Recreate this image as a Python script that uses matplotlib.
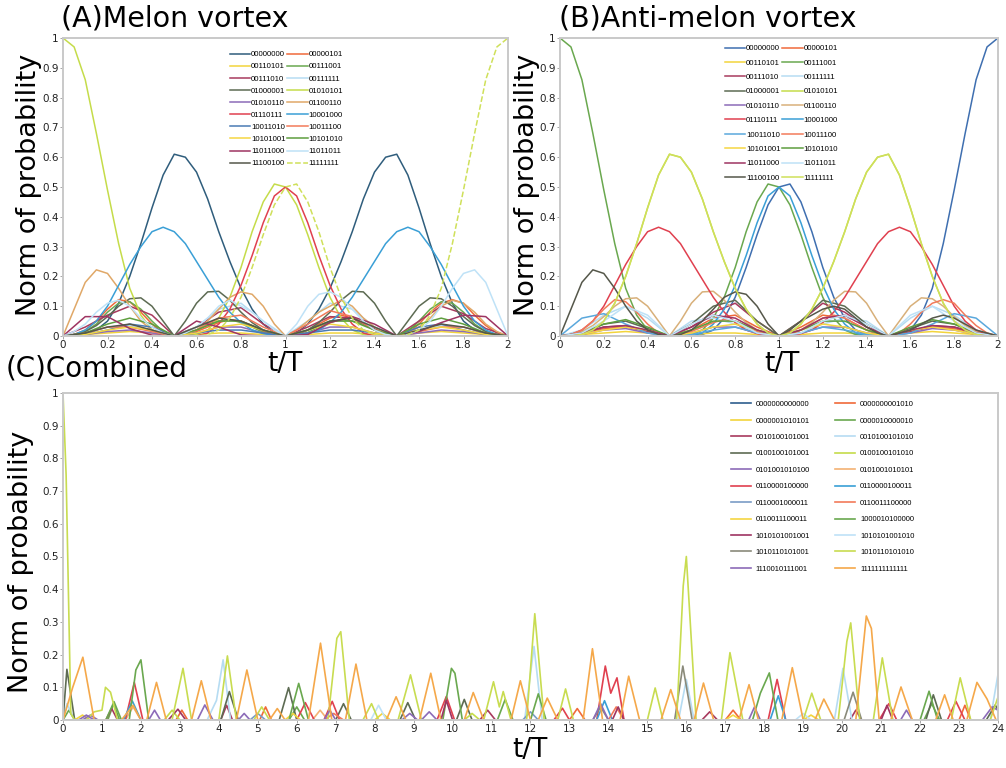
import numpy as np
import matplotlib
matplotlib.use('Agg')
import matplotlib.pyplot as plt
from matplotlib.ticker import FuncFormatter, MultipleLocator

# ---------------- time grids (t/T) ----------------
t_fine = np.round(np.linspace(0, 2, 41), 3)     # step 0.05
t_coarse = np.round(np.linspace(0, 2, 21), 3)   # step 0.1

# ---------------- Panel A : Melon vortex ----------------
labels_ab = ['00000000', '00000101', '00110101', '00111001', '00111010', '00111111',
             '01000001', '01010101', '01010110', '01100110', '01110111', '10001000',
             '10011010', '10011100', '10101001', '10101010', '11011000', '11011011',
             '11100100', '11111111']

colors_a = ['#2f5d7c', '#f06a3a', '#f2d43c', '#6aa84f', '#a83a5e', '#b6dcf2',
            '#5d6b53', '#c5dc4a', '#8c6bb8', '#e0a868', '#e0404f', '#3a9fd6',
            '#4a7ab4', '#f27a5a', '#f5d642', '#5e9e3e', '#9e3462', '#bfe2f7',
            '#55574a', '#cfe05a']

A_00000000 = [0, 0, .005, .02, .05, .11, .2, .31, .43, .54, .61, .6, .55, .46, .35, .25, .16, .09, .04, .01, 0,
              .01, .04, .09, .16, .25, .35, .46, .55, .6, .61, .54, .43, .31, .2, .11, .05, .02, .005, 0, 0]
A_01010101 = [1.0, .97, .86, .68, .49, .31, .16, .07, .02, .005, 0, 0, .005, .02, .06, .13, .23, .35, .45, .51, .5,
              .44, .34, .23, .13, .06, .02, .005, 0, 0, 0, 0, 0, 0, 0, 0, 0, 0, 0, 0, 0]
A_11111111 = [0, 0, 0, 0, 0, 0, 0, 0, 0, 0, 0, 0, 0, .005, .02, .06, .13, .23, .34, .44, .5,
              .51, .45, .35, .23, .13, .06, .02, .005, 0, 0, .005, .02, .07, .16, .31, .49, .68, .86, .97, 1.0]
A_01110111 = [0, 0, 0, 0, 0, 0, 0, 0, 0, 0, 0, 0, 0, .01, .04, .09, .17, .27, .38, .47, .5,
              .47, .38, .27, .17, .09, .04, .01, 0, 0, 0, 0, 0, 0, 0, 0, 0, 0, 0, 0, 0]
A_10001000 = [0, .005, .02, .05, .1, .17, .24, .3, .35, .365, .35, .31, .25, .19, .13, .08, .045, .02, .008, .002, 0,
              .002, .008, .02, .045, .08, .13, .19, .25, .31, .35, .365, .35, .3, .24, .17, .1, .05, .02, .005, 0]
A_01100110 = [0, .09, .18, .222, .21, .16, .1, .05, .02, .005, 0, .005, .02, .05, .09, .13, .148, .14, .1, .04, 0,
              .02, .05, .08, .1, .12, .1, .06, .03, .01, 0, .01, .03, .06, .1, .12, .11, .08, .04, .015, 0]
A_11011011 = [0, .015, .04, .08, .11, .12, .1, .06, .03, .01, 0, .01, .03, .06, .1, .12, .1, .08, .05, .02, 0,
              .04, .1, .14, .148, .13, .09, .05, .02, .005, 0, .005, .02, .05, .1, .16, .21, .222, .18, .09, 0]
A_01000001 = [0, .005, .015, .035, .065, .1, .125, .128, .1, .05, 0, .05, .11, .148, .15, .12, .08, .045, .02, .005, 0,
              .005, .02, .045, .08, .12, .15, .148, .11, .05, 0, .05, .1, .128, .125, .1, .065, .035, .015, .005, 0]
A_00000101 = [0, .005, .02, .05, .09, .122, .115, .08, .04, .01, 0, .005, .015, .03, .045, .055, .05, .035, .015, .004, 0,
              .005, .02, .04, .06, .07, .06, .04, .02, .005, 0, .01, .04, .08, .11, .122, .11, .07, .035, .01, 0]
A_00111001 = [0, .003, .015, .04, .08, .11, .115, .09, .05, .015, 0, .005, .02, .04, .05, .055, .045, .03, .012, .003, 0,
              .003, .012, .03, .045, .055, .05, .04, .02, .005, 0, .015, .05, .09, .115, .11, .08, .04, .015, .003, 0]
A_00110101 = [0, .005, .01, .015, .01, 0, .005, .01, .01, .005, 0, .005, .01, .01, .005, 0, .01, .015, .01, .005, 0]
A_00111010 = [0, .03, .07, .1, .07, 0, .03, .08, .095, .04, 0, .03, .065, .06, .025, 0, .05, .1, .075, .025, 0]
A_00111111 = [0, .01, .03, .035, .015, 0, .03, .09, .11, .05, 0, .05, .11, .09, .03, 0, .015, .035, .03, .01, 0]
A_01010110 = [0, .005, .015, .02, .01, 0, .01, .03, .03, .01, 0, .01, .03, .03, .01, 0, .01, .02, .015, .005, 0]
A_10011010 = [0, .005, .02, .04, .03, 0, .01, .02, .02, .01, 0, .01, .02, .02, .01, 0, .03, .04, .02, .005, 0]
A_10011100 = [0, .01, .03, .03, .015, 0, .02, .06, .07, .03, 0, .04, .085, .065, .02, 0, .015, .03, .03, .01, 0]
A_10101001 = [0, .005, .02, .03, .02, 0, .01, .03, .04, .02, 0, .02, .04, .03, .01, 0, .02, .03, .02, .005, 0]
A_10101010 = [0, .01, .04, .06, .04, 0, .02, .05, .05, .02, 0, .02, .05, .05, .02, 0, .04, .06, .04, .01, 0]
A_11011000 = [0, .065, .065, .025, .003, 0, .05, .03, .004, 0, 0, .005, .045, .065, .04, 0, .015, .045, .07, .065, 0]
A_11100100 = [0, .01, .03, .04, .02, 0, .03, .06, .05, .02, 0, .02, .05, .06, .03, 0, .02, .04, .03, .01, 0]

# ---------------- Panel B : Anti-melon vortex ----------------
colors_b = ['#3f6fb0', '#f06a3a', '#f2d43c', '#6aa84f', '#a83a5e', '#b6dcf2',
            '#5d6b53', '#c5dc4a', '#8c6bb8', '#d8b07a', '#e0404f', '#3a9fd6',
            '#5aa8dc', '#f27a5a', '#f5d642', '#5e9e3e', '#9e3462', '#bfe2f7',
            '#55574a', '#cfe05a']

B_00111001 = [1.0, .97, .86, .68, .49, .31, .16, .07, .02, .005, 0, 0, .005, .02, .06, .13, .23, .35, .45, .51, .5,
              .44, .34, .23, .13, .06, .02, .005, 0, 0, 0, 0, 0, 0, 0, 0, 0, 0, 0, 0, 0]
B_00000000 = [0, 0, 0, 0, 0, 0, 0, 0, 0, 0, 0, 0, 0, .005, .02, .06, .13, .23, .34, .44, .5,
              .51, .45, .35, .23, .13, .06, .02, .005, 0, 0, .005, .02, .07, .16, .31, .49, .68, .86, .97, 1.0]
B_10001000 = [0, 0, 0, 0, 0, 0, 0, 0, 0, 0, 0, 0, 0, .01, .04, .09, .17, .27, .38, .47, .5,
              .47, .38, .27, .17, .09, .04, .01, 0, 0, 0, 0, 0, 0, 0, 0, 0, 0, 0, 0, 0]
B_01010101 = [0, 0, .005, .02, .05, .11, .2, .31, .43, .54, .61, .6, .55, .46, .35, .25, .16, .09, .04, .01, 0,
              .01, .04, .09, .16, .25, .35, .46, .55, .6, .61, .54, .43, .31, .2, .11, .05, .02, .005, 0, 0]
B_01110111 = [0, .005, .02, .05, .1, .17, .24, .3, .35, .365, .35, .31, .25, .19, .13, .08, .045, .02, .008, .002, 0,
              .002, .008, .02, .045, .08, .13, .19, .25, .31, .35, .365, .35, .3, .24, .17, .1, .05, .02, .005, 0]
B_11100100 = [0, .09, .18, .222, .21, .16, .1, .05, .02, .005, 0, .005, .02, .05, .09, .13, .148, .14, .1, .04, 0,
              .02, .05, .07, .09, .1, .09, .06, .03, .01, 0, .01, .02, .04, .06, .07, .06, .04, .02, .01, 0]
B_01100110 = [0, .005, .015, .035, .065, .1, .125, .128, .1, .05, 0, .05, .11, .148, .15, .12, .08, .045, .02, .005, 0,
              .005, .02, .045, .08, .12, .15, .148, .11, .05, 0, .05, .1, .128, .125, .1, .065, .035, .015, .005, 0]
B_10011100 = [0, .005, .02, .05, .09, .122, .115, .08, .04, .01, 0, .005, .015, .03, .045, .055, .05, .035, .015, .004, 0,
              .005, .02, .04, .06, .07, .06, .04, .02, .005, 0, .01, .04, .08, .11, .122, .11, .07, .035, .01, 0]
B_00000101 = [0, .01, .025, .03, .015, 0, .02, .06, .07, .03, 0, .03, .07, .06, .02, 0, .015, .03, .025, .01, 0]
B_00110101 = [0, .005, .01, .015, .01, 0, .005, .01, .01, .005, 0, .005, .01, .01, .005, 0, .01, .015, .01, .005, 0]
B_00111010 = [0, .01, .03, .035, .015, 0, .03, .08, .11, .05, 0, .05, .11, .08, .03, 0, .015, .035, .03, .01, 0]
B_00111111 = [0, .02, .07, .1, .06, 0, .05, .06, .04, .01, 0, .01, .04, .06, .05, 0, .06, .1, .07, .02, 0]
B_01000001 = [0, .01, .04, .05, .025, 0, .04, .1, .12, .05, 0, .05, .12, .1, .04, 0, .025, .05, .04, .01, 0]
B_01010110 = [0, .005, .02, .025, .01, 0, .01, .03, .03, .01, 0, .01, .03, .03, .01, 0, .01, .025, .02, .005, 0]
B_10011010 = [0, .06, .075, .04, .01, 0, .005, .02, .03, .01, 0, .01, .03, .02, .005, 0, .01, .04, .075, .06, 0]
B_10101001 = [0, .005, .02, .03, .02, 0, .01, .03, .04, .02, 0, .02, .04, .03, .01, 0, .02, .03, .02, .005, 0]
B_10101010 = [0, .01, .04, .055, .03, 0, .02, .05, .05, .02, 0, .02, .05, .05, .02, 0, .03, .055, .04, .01, 0]
B_11011000 = [0, .01, .03, .035, .02, 0, .03, .07, .06, .02, 0, .02, .06, .07, .03, 0, .02, .035, .03, .01, 0]
B_11011011 = [0, .01, .05, .1, .07, 0, .04, .07, .05, .01, 0, .01, .05, .07, .04, 0, .07, .1, .05, .01, 0]

# ---------------- Panel C : Combined (t, value) samples ----------------
labels_c = ['0000000000000', '0000000001010', '0000001010101', '0000010000010',
            '0010100101001', '0010100101010', '0100100101001', '0100100101010',
            '0101001010100', '0101001010101', '0110000100000', '0110000100011',
            '0110001000011', '0110011100000', '0110011100011', '1000010100000',
            '1010101001001', '1010101001010', '1010110101001', '1010110101010',
            '1110010111001', '1111111111111']
colors_c = ['#2e5e8e', '#f06a3a', '#f2d43c', '#6aa84f', '#a83a5e', '#b6dcf2',
            '#5d6b53', '#c5dc4a', '#8c6bb8', '#f4b273', '#e0404f', '#3a9fd6',
            '#7a9cc6', '#f27a5a', '#f5d642', '#6aa84f', '#9e3462', '#bfe2f7',
            '#8a8a7a', '#c8dc50', '#8c6bb8', '#f5a84a']

C_t_00 = [0, 24]
C_v_00 = [0.0, 0.0]
C_t_01 = [2.9, 3.05, 3.2, 5.05, 5.2, 5.35, 13.0, 13.2, 13.4, 17.0, 17.2, 17.4, 23.0, 23.15, 23.3]
C_v_01 = [0, .03, 0, 0, .04, 0, 0, .035, 0, 0, .03, 0, 0, .045, 0]
C_t_02 = [0.3, 0.5, 0.7, 8.0, 8.2, 8.4, 19.0, 19.2, 19.4]
C_v_02 = [0, .015, 0, 0, .02, 0, 0, .015, 0]
C_t_03 = [0, 0.15, 0.3, 1.15, 1.3, 1.45, 5.8, 6.0, 6.2, 22.1, 22.3, 22.5]
C_v_03 = [0, .03, 0, 0, .05, 0, 0, .04, 0, 0, .05, 0]
C_t_04 = [1.1, 1.25, 1.4, 4.05, 4.2, 4.35, 10.7, 10.9, 11.1, 16.4, 16.6, 16.8, 20.2, 20.35, 20.5]
C_v_04 = [0, .035, 0, 0, .045, 0, 0, .03, 0, 0, .025, 0, 0, .03, 0]
C_t_05 = [0, 0.1, 0.3, 3.7, 3.94, 4.11, 4.3, 11.85, 12.09, 12.3, 15.8, 16.0, 16.2, 19.8, 20.02, 20.25, 23.8, 24.0]
C_v_05 = [0, .05, 0, 0, .06, .184, 0, 0, .225, 0, 0, .124, 0, 0, .158, 0, 0, .14]
C_t_06 = [0, 0.1, 0.3, 4.05, 4.27, 4.5, 5.55, 5.79, 6.0, 7.0, 7.2, 7.4, 8.65, 8.85, 9.05, 10.1, 10.3, 10.5,
          22.15, 22.34, 22.55, 23.7, 23.93, 24.0]
C_v_06 = [0, .155, 0, 0, .087, 0, 0, .099, 0, 0, .05, 0, 0, .053, 0, 0, .063, 0, 0, .077, 0, 0, .046, .03]
C_t_07 = [2.6, 2.8, 3.0, 10.3, 10.5, 10.7]
C_v_07 = [0, .03, 0, 0, .02, 0]
C_t_08 = [0.5, 0.7, 0.9, 8.7, 8.9, 9.1, 23.6, 23.85, 24.0]
C_v_08 = [0, .015, 0, 0, .02, 0, 0, .04, .03]
C_t_09 = [1.6, 1.8, 2.0, 6.4, 6.6, 6.8]
C_v_09 = [0, .04, 0, 0, .03, 0]
C_t_10 = [1.6, 1.83, 2.05, 6.0, 6.22, 6.45, 6.7, 6.91, 7.1, 9.6, 9.84, 10.05, 12.6, 12.82, 13.0,
          13.7, 13.92, 14.06, 14.22, 14.4, 18.1, 18.33, 18.55, 20.95, 21.2, 21.4, 22.7, 22.92, 23.15]
C_v_10 = [0, .115, 0, 0, .053, 0, 0, .057, 0, 0, .072, 0, 0, .036, 0,
          0, .165, .082, .129, 0, 0, .124, 0, 0, .05, 0, 0, .057, 0]
C_t_11 = [1.55, 1.78, 2.0, 13.7, 13.9, 14.1, 18.15, 18.36, 18.55]
C_v_11 = [0, .058, 0, 0, .059, 0, 0, .074, 0]
C_t_12 = [4.8, 5.0, 5.2, 11.8, 12.0, 12.2]
C_v_12 = [0, .02, 0, 0, .025, 0]
C_t_13 = [6.7, 6.95, 7.2, 14.0, 14.2, 14.4]
C_v_13 = [0, .02, 0, 0, .04, 0]
C_t_14 = [5.7, 5.9, 6.1, 17.0, 17.2, 17.4]
C_v_14 = [0, .02, 0, 0, .015, 0]
C_t_15 = [0, 1.1, 1.31, 1.5, 1.7, 1.87, 2.0, 2.2, 5.8, 6.05, 6.3, 9.75, 9.97, 10.06, 10.25, 11.15, 11.35, 11.55,
          12.0, 12.2, 12.4, 17.7, 17.9, 18.13, 18.35, 22.0, 22.23, 22.45, 24.0]
C_v_15 = [0, 0, .056, 0, 0, .153, .184, 0, 0, .112, 0, 0, .158, .143, 0, 0, .063, 0,
          0, .08, 0, 0, .082, .144, 0, 0, .088, 0, 0]
C_t_16 = [2.7, 2.95, 3.15, 9.7, 9.84, 10.0, 14.1, 14.25, 14.4, 21.0, 21.15, 21.3]
C_v_16 = [0, .033, 0, 0, .06, 0, 0, .04, 0, 0, .045, 0]
C_t_17 = [7.9, 8.1, 8.3, 18.8, 19.0, 19.2]
C_v_17 = [0, .045, 0, 0, .02, 0]
C_t_18 = [13.6, 13.8, 14.0, 15.7, 15.91, 16.15, 20.05, 20.28, 20.5]
C_v_18 = [0, .04, 0, 0, .165, 0, 0, .085, 0]
C_t_19 = [0, 0.08, 0.2, 0.3, 0.6, 0.8, 1.0, 1.09, 1.22, 1.4, 2.8, 3.08, 3.3, 4.0, 4.22, 4.45, 4.9, 5.1, 5.3,
          6.8, 7.03, 7.13, 7.35, 7.7, 7.92, 8.1, 8.6, 8.92, 9.2, 10.8, 11.05, 11.2, 11.3, 11.5, 11.9, 12.11, 12.35,
          12.7, 12.9, 13.1, 15.0, 15.2, 15.4, 15.75, 15.92, 16.0, 16.25, 16.9, 17.12, 17.45, 19.0, 19.22, 19.45,
          19.9, 20.12, 20.22, 20.45, 20.8, 21.03, 21.3, 22.8, 23.03, 23.3, 23.8, 24.0]
C_v_19 = [1.0, .75, .02, 0, 0, .025, .03, .10, .085, 0, 0, .158, 0, 0, .196, 0, 0, .04, 0,
          0, .25, .27, 0, 0, .05, 0, 0, .138, 0, 0, .117, .04, .087, 0, 0, .325, 0,
          0, .095, 0, 0, .098, 0, 0, .41, .5, 0, 0, .206, 0, 0, .082, 0,
          0, .24, .297, 0, 0, .19, 0, 0, .129, 0, 0, .07]
C_t_20 = [0.4, 0.6, 0.8, 2.2, 2.35, 2.5, 3.45, 3.64, 3.85, 4.5, 4.65, 4.8, 6.7, 6.85, 7.0, 9.2, 9.4, 9.6,
          13.6, 13.8, 14.0, 17.6, 17.75, 17.9, 21.5, 21.65, 21.8]
C_v_20 = [0, .015, 0, 0, .03, 0, 0, .046, 0, 0, .02, 0, 0, .03, 0, 0, .025, 0,
          0, .05, 0, 0, .04, 0, 0, .03, 0]
C_t_21 = [0, 0.25, 0.51, 0.8, 1.5, 1.8, 2.0, 2.15, 2.4, 2.65, 3.3, 3.55, 3.8, 4.45, 4.72, 5.0, 5.3, 5.5, 5.7,
          6.3, 6.61, 6.9, 7.25, 7.52, 7.8, 8.3, 8.55, 8.8, 9.15, 9.44, 9.7, 10.3, 10.53, 10.8, 11.5, 11.74, 12.0,
          12.2, 12.43, 12.7, 13.35, 13.59, 13.85, 14.3, 14.52, 14.8, 15.35, 15.6, 15.85, 16.2, 16.44, 16.7,
          17.35, 17.61, 17.85, 18.45, 18.72, 19.0, 19.3, 19.53, 19.8, 20.35, 20.62, 20.75, 20.95, 21.25, 21.51,
          21.8, 22.4, 22.63, 22.85, 23.2, 23.46, 23.72, 23.95]
C_v_21 = [0, .1, .192, 0, 0, .045, 0, 0, .115, 0, 0, .12, 0, 0, .153, 0, 0, .035, 0,
          0, .235, 0, 0, .171, 0, 0, .071, 0, 0, .143, 0, 0, .084, 0, 0, .12, 0,
          0, .067, 0, 0, .218, 0, 0, .134, 0, 0, .093, 0, 0, .113, 0,
          0, .108, 0, 0, .16, 0, 0, .064, 0, 0, .318, .28, 0, 0, .101,
          0, 0, .077, 0, 0, .115, .064, 0]

# ---------------- assemble ----------------
A_series = {
    '00000000': (t_fine, A_00000000), '00000101': (t_fine, A_00000101),
    '00110101': (t_coarse, A_00110101), '00111001': (t_fine, A_00111001),
    '00111010': (t_coarse, A_00111010), '00111111': (t_coarse, A_00111111),
    '01000001': (t_fine, A_01000001), '01010101': (t_fine, A_01010101),
    '01010110': (t_coarse, A_01010110), '01100110': (t_fine, A_01100110),
    '01110111': (t_fine, A_01110111), '10001000': (t_fine, A_10001000),
    '10011010': (t_coarse, A_10011010), '10011100': (t_coarse, A_10011100),
    '10101001': (t_coarse, A_10101001), '10101010': (t_coarse, A_10101010),
    '11011000': (t_coarse, A_11011000), '11011011': (t_fine, A_11011011),
    '11100100': (t_coarse, A_11100100), '11111111': (t_fine, A_11111111),
}
B_series = {
    '00000000': (t_fine, B_00000000), '00000101': (t_coarse, B_00000101),
    '00110101': (t_coarse, B_00110101), '00111001': (t_fine, B_00111001),
    '00111010': (t_coarse, B_00111010), '00111111': (t_coarse, B_00111111),
    '01000001': (t_coarse, B_01000001), '01010101': (t_fine, B_01010101),
    '01010110': (t_coarse, B_01010110), '01100110': (t_fine, B_01100110),
    '01110111': (t_fine, B_01110111), '10001000': (t_fine, B_10001000),
    '10011010': (t_coarse, B_10011010), '10011100': (t_fine, B_10011100),
    '10101001': (t_coarse, B_10101001), '10101010': (t_coarse, B_10101010),
    '11011000': (t_coarse, B_11011000), '11011011': (t_coarse, B_11011011),
    '11100100': (t_fine, B_11100100), '11111111': (t_fine, B_01010101),
}
C_series = [(C_t_00, C_v_00), (C_t_01, C_v_01), (C_t_02, C_v_02), (C_t_03, C_v_03),
            (C_t_04, C_v_04), (C_t_05, C_v_05), (C_t_06, C_v_06), (C_t_07, C_v_07),
            (C_t_08, C_v_08), (C_t_09, C_v_09), (C_t_10, C_v_10), (C_t_11, C_v_11),
            (C_t_12, C_v_12), (C_t_13, C_v_13), (C_t_14, C_v_14), (C_t_15, C_v_15),
            (C_t_16, C_v_16), (C_t_17, C_v_17), (C_t_18, C_v_18), (C_t_19, C_v_19),
            (C_t_20, C_v_20), (C_t_21, C_v_21)]

# ---------------- figure ----------------
plt.rcParams['font.family'] = ['DejaVu Sans']
W, H = 1006, 768
fig = plt.figure(figsize=(W / 100, H / 100), dpi=100)
fig.patch.set_facecolor('white')


def fx(px):
    return px / W


def fy(py):
    return 1 - py / H


fmt = FuncFormatter(lambda v, p: ('%g' % round(v, 3)))


def style_axes(ax, xmax, xstep):
    ax.set_xlim(0, xmax)
    ax.set_ylim(0, 1)
    ax.xaxis.set_major_locator(MultipleLocator(xstep))
    ax.yaxis.set_major_locator(MultipleLocator(0.1))
    ax.xaxis.set_major_formatter(fmt)
    ax.yaxis.set_major_formatter(fmt)
    for s in ax.spines.values():
        s.set_color('#c9c9c9')
        s.set_linewidth(1.4)
    ax.tick_params(axis='both', length=2, width=0.6, color='#999999',
                   labelsize=7.5, pad=1, labelcolor='#222222')


def legend_rowmajor(ax, handles, labels, **kw):
    h = handles[0::2] + handles[1::2]
    l = labels[0::2] + labels[1::2]
    return ax.legend(h, l, **kw)


leg_font_ab = {'family': 'Liberation Sans', 'size': 5.6}

# Panel A
axA = fig.add_axes([fx(63), fy(336), fx(508 - 63), (336 - 38) / H])
hA = []
for lab, col in zip(labels_ab, colors_a):
    tt, vv = A_series[lab]
    ls = '--' if lab == '11111111' else '-'
    ln, = axA.plot(tt, vv, color=col, lw=1.1, ls=ls)
    hA.append(ln)
style_axes(axA, 2, 0.2)
legend_rowmajor(axA, hA, labels_ab, loc='upper left', bbox_to_anchor=(fx(226), fy(47)),
                bbox_transform=fig.transFigure, ncol=2, frameon=False,
                prop=leg_font_ab, handlelength=2.6,
                handletextpad=0.1, columnspacing=0.25, labelspacing=0.6, borderpad=0)

# Panel B
axB = fig.add_axes([fx(560), fy(336), fx(998 - 560), (336 - 38) / H])
hB = []
for lab, col in zip(labels_ab, colors_b):
    tt, vv = B_series[lab]
    ln, = axB.plot(tt, vv, color=col, lw=1.1)
    hB.append(ln)
style_axes(axB, 2, 0.2)
legend_rowmajor(axB, hB, labels_ab, loc='upper left', bbox_to_anchor=(fx(721), fy(41)),
                bbox_transform=fig.transFigure, ncol=2, frameon=False,
                prop=leg_font_ab, handlelength=2.6,
                handletextpad=0.1, columnspacing=0.25, labelspacing=0.89, borderpad=0)

# Panel C
axC = fig.add_axes([fx(63), fy(720), fx(998 - 63), (720 - 393) / H])
hC = []
for (tt, vv), col in zip(C_series, colors_c):
    ln, = axC.plot(tt, vv, color=col, lw=1.2)
    hC.append(ln)
style_axes(axC, 24, 1)
legend_rowmajor(axC, hC, labels_c, loc='upper left', bbox_to_anchor=(fx(727), fy(397)),
                bbox_transform=fig.transFigure, ncol=2, frameon=False,
                prop={'family': 'Liberation Sans', 'size': 5.5}, handlelength=2.6,
                handletextpad=0.65, columnspacing=3.3, labelspacing=1.19, borderpad=0)

# texts
fig.text(fx(61), fy(18), '(A)Melon vortex', fontsize=20.5, ha='left', va='center')
fig.text(fx(559), fy(18), '(B)Anti-melon vortex', fontsize=20.5, ha='left', va='center')
fig.text(fx(6), fy(369), '(C)Combined', fontsize=20, ha='left', va='center')
fig.text(fx(29), fy(185), 'Norm of probability', fontsize=19.5, rotation=90, ha='center', va='center')
fig.text(fx(527), fy(185), 'Norm of probability', fontsize=19.5, rotation=90, ha='center', va='center')
fig.text(fx(21), fy(562), 'Norm of probability', fontsize=19.5, rotation=90, ha='center', va='center')
fig.text(fx(285), fy(364), 't/T', fontsize=19, ha='center', va='center')
fig.text(fx(782), fy(364), 't/T', fontsize=19, ha='center', va='center')
fig.text(fx(530), fy(750), 't/T', fontsize=19, ha='center', va='center')

fig.savefig('out.png', dpi=100, facecolor='white')
